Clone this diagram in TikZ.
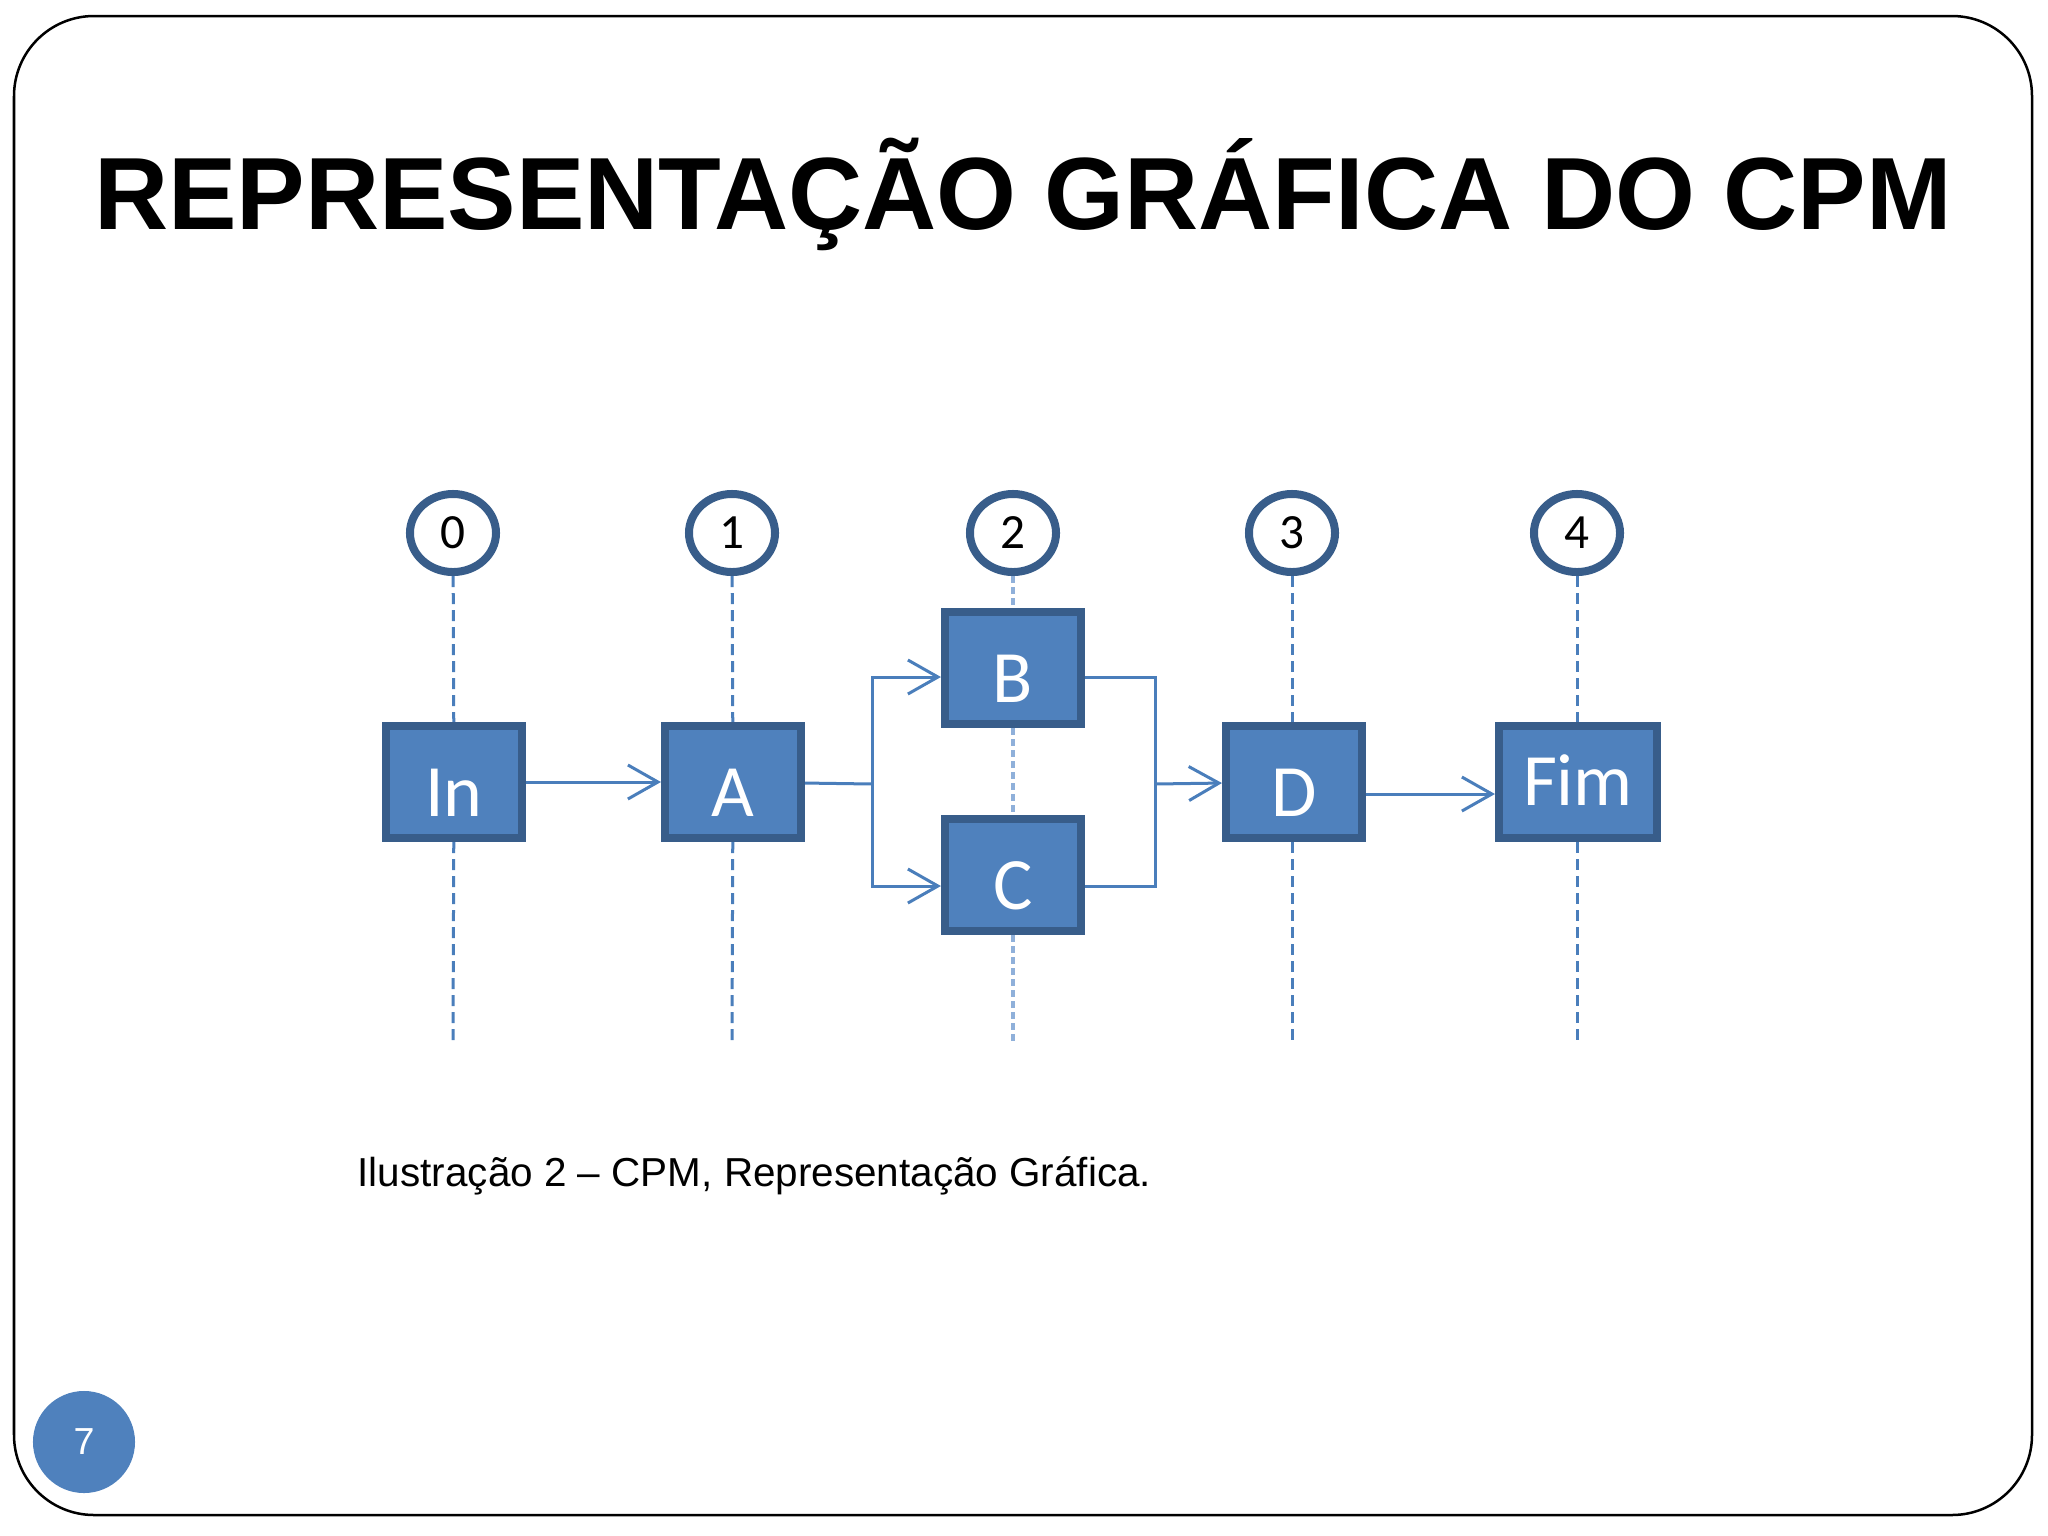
\documentclass[tikz,border=0pt]{standalone}
\usepackage{fontspec}
\setmainfont{Liberation Sans}
\newfontfamily\boxfont{Carlito}
\usetikzlibrary{shapes.geometric,arrows.meta}
\definecolor{cpmfill}{HTML}{4F81BD}
\definecolor{cpmedge}{HTML}{385D8A}
\definecolor{cpmline}{HTML}{4A7EBB}
\definecolor{cpmpale}{HTML}{8FB0DA}

\begin{document}
\begin{tikzpicture}[x=0.01cm,y=-0.01cm,
	activity/.style={draw=cpmedge,fill=cpmfill,line width=0.08cm,minimum width=1.36cm,minimum height=1.12cm,inner sep=0pt,text height=0.68cm,text depth=0pt,text=white,font=\boxfont\fontsize{21}{21}\selectfont},
	event/.style={ellipse,draw=cpmedge,fill=white,line width=0.08cm,minimum width=0.86cm,minimum height=0.78cm,inner sep=0pt,font=\boxfont\fontsize{14}{14}\selectfont},
	timeline/.style={draw=cpmline,line width=0.03cm,dash pattern=on 0.11cm off 0.06cm},
	link/.style={draw=cpmline,line width=0.03cm},
	flow/.style={link,-{Straight Barb[length=0.3cm,width=0.34cm]}}]
		\useasboundingbox (0,0) rectangle (2048,1536);
		\draw[line width=0.025cm,rounded corners=0.8cm] (14,16) rectangle (2032,1515);
		
		\node[anchor=base] (title) at (1023,229) {\fontsize{29.2}{34}\selectfont\bfseries REPRESENTAÇÃO GRÁFICA DO CPM};
		
		\node[event] (e0) at (453,533) {0};
		\node[event] (e1) at (732,533) {1};
		\node[event] (e2) at (1013,533) {2};
		\node[event] (e3) at (1292,533) {3};
		\node[event] (e4) at (1577,533) {4};
		
		\node[activity] (in) at (454,782) {In};
		\node[activity] (a) at (733,782) {A};
		\node[activity] (b) at (1013,668) {B};
		\node[activity] (c) at (1013,875) {C};
		\node[activity] (d) at (1294,782) {D};
		\node[activity,minimum width=1.58cm,text height=0.46cm] (fim) at (1578,782) {Fim};
		
		\coordinate (z0) at (453,1041);
		\coordinate (z1) at (732,1041);
		\coordinate (z2) at (1013,1041);
		\coordinate (z3) at (1292,1041);
		\coordinate (z4) at (1577,1041);
		
		\draw[timeline] (e0) -- (in) (in) -- (z0);
		\draw[timeline] (e1) -- (a) (a) -- (z1);
		\draw[timeline,draw=cpmpale,line width=0.04cm,dash pattern=on 0.07cm off 0.04cm] (e2) -- (b) (b) -- (c) (c) -- (z2);
		\draw[timeline] (e3) -- (d.north -| z3) (d.south -| z3) -- (z3);
		\draw[timeline] (e4) -- (fim.north -| z4) (fim.south -| z4) -- (z4);
		
		\coordinate (split) at (872,784);
		\coordinate (join) at (1155,784);
		
		\draw[flow] (in) -- (a);
		\draw[link] (a) -- (split);
		\draw[flow] (split) |- ([yshift=-0.09cm]b.west);
		\draw[flow] (split) |- ([yshift=-0.11cm]c.west);
		\draw[link] ([yshift=-0.09cm]b.east) -| (join);
		\draw[link] ([yshift=-0.11cm]c.east) -| (join);
		\draw[flow] (join) -- (d);
		\draw[flow] ([yshift=-0.12cm]d.east) -- ([yshift=-0.12cm]fim.west);
		
		\node[anchor=base west,inner sep=0pt] (caption) at (357,1186) {\fontsize{11.5}{14}\selectfont Ilustração 2 – CPM, Representação Gráfica.};
		
		\node[circle,fill=cpmfill,minimum size=1.02cm,inner sep=0pt,text=white,font=\fontsize{10.7}{12}\selectfont] (page) at (84,1442) {7};
\end{tikzpicture}
\end{document}
